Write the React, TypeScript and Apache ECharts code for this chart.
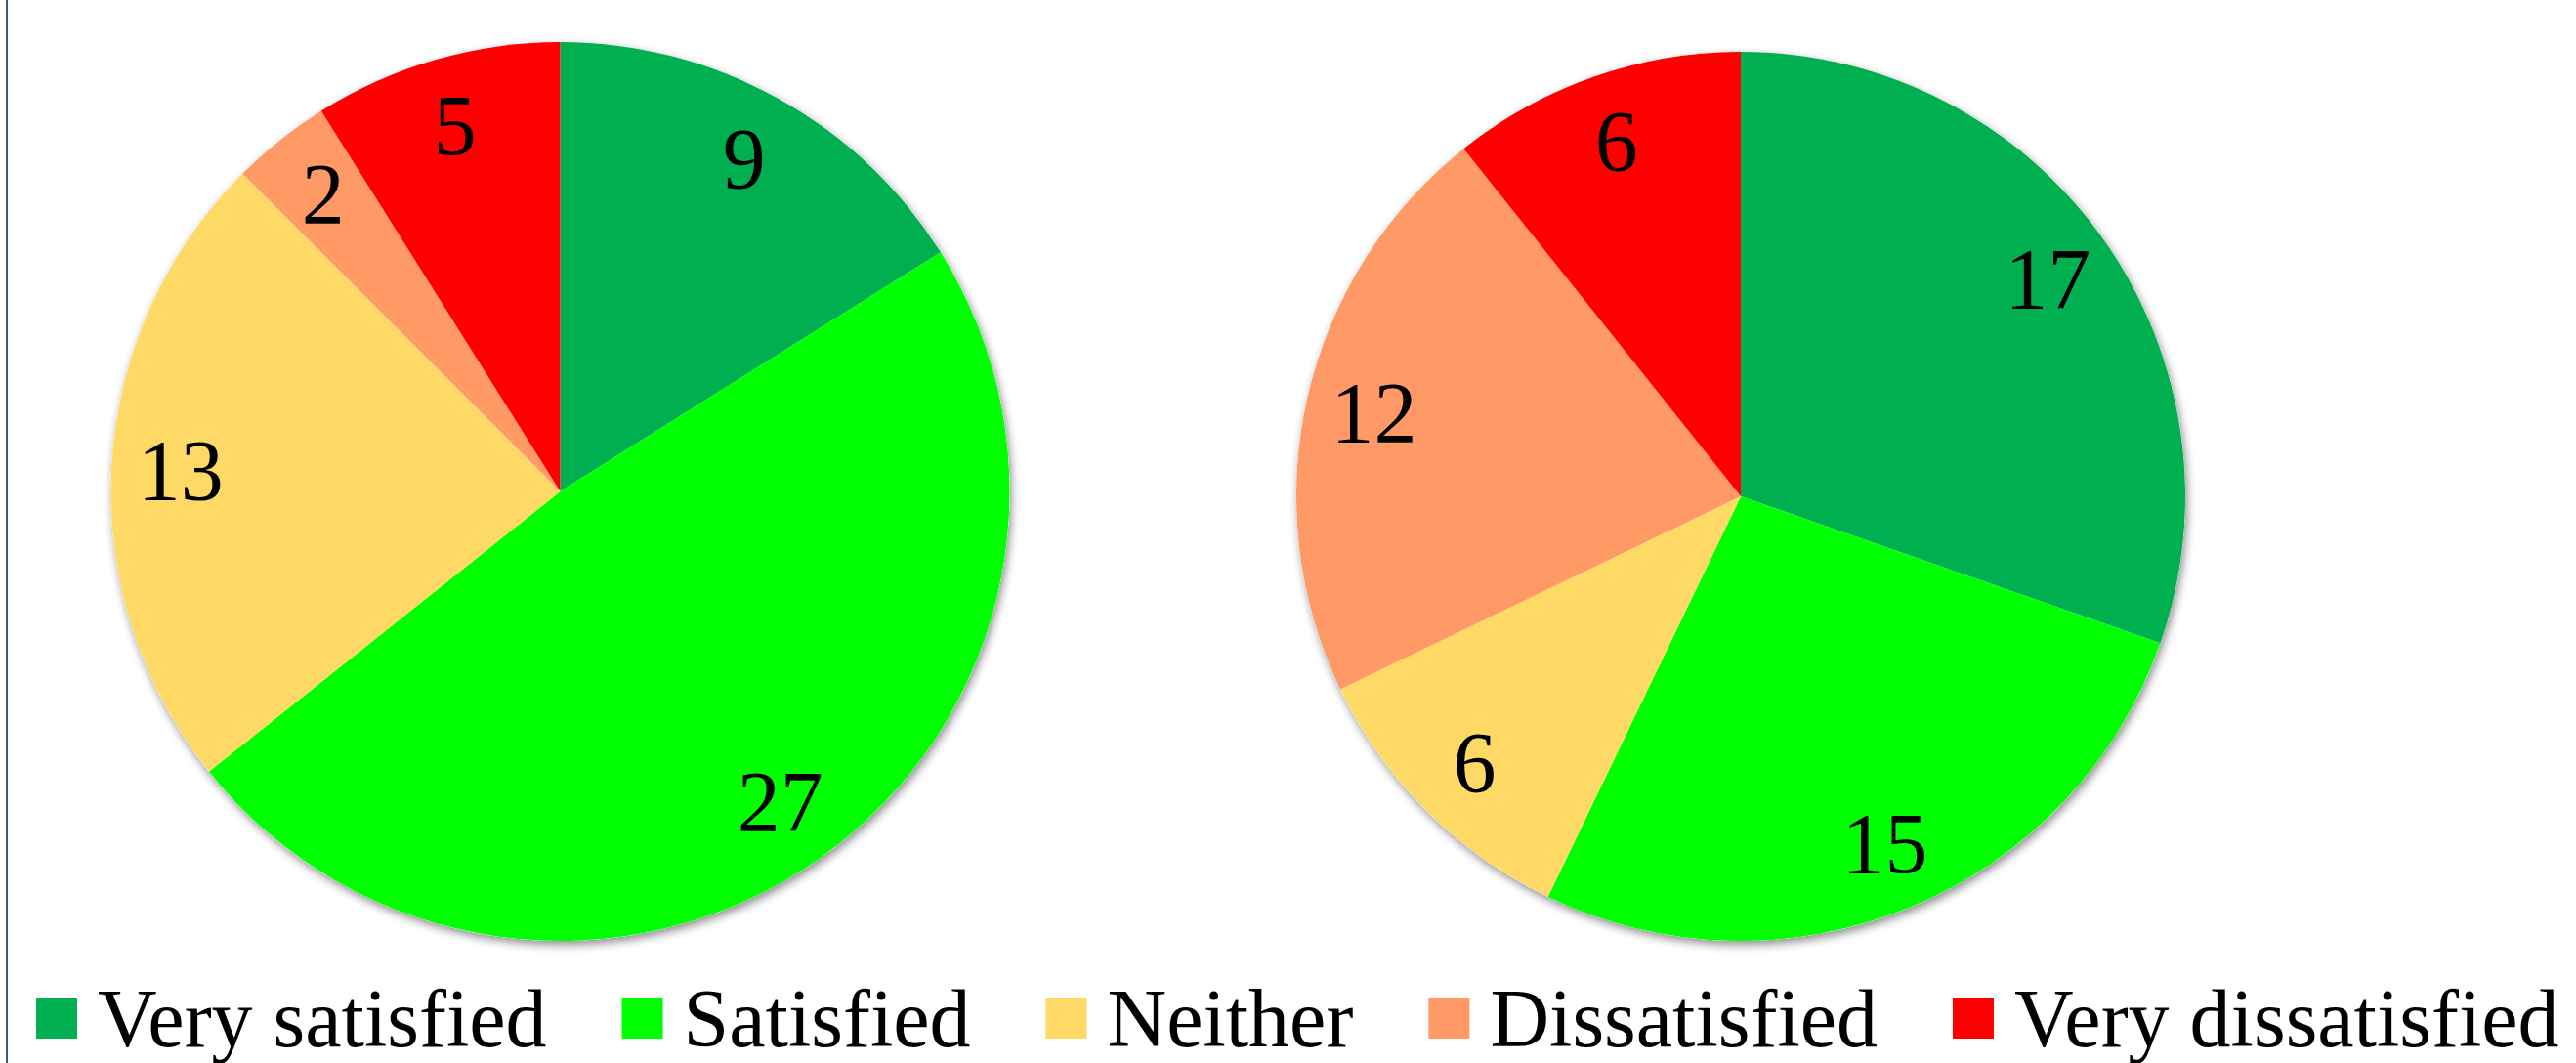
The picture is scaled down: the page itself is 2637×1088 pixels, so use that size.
import React, { useEffect, useRef } from "react";
import * as echarts from "echarts";

const categories = ["Very satisfied", "Satisfied", "Neither", "Dissatisfied", "Very dissatisfied"];
const leftValues = [9, 27, 13, 2, 5];
const rightValues = [17, 15, 6, 12, 6];
const colors = ["#00B050", "#00FF00", "#FFD966", "#FF9966", "#FF0000"];

const FONT = "'Liberation Serif', 'DejaVu Serif', serif";

export default function App() {
  const ref = useRef<HTMLDivElement>(null);
  useEffect(() => {
    if (!ref.current) return;
    const chart = echarts.init(ref.current, null, { renderer: "svg" });
    const pies = [
      { center: [573.5, 503], r: 460, values: leftValues },
      { center: [1782, 508], r: 455, values: rightValues },
    ];
    const series: any[] = [];
    // shadow casters
    pies.forEach((p) => {
      series.push({
        type: "pie",
        center: p.center,
        radius: p.r,
        silent: true,
        label: { show: false },
        labelLine: { show: false },
        itemStyle: {
          color: "#ffffff",
          shadowBlur: 10,
          shadowColor: "rgba(0,0,0,0.45)",
          shadowOffsetX: 2,
          shadowOffsetY: 4,
        },
        data: [{ value: 1 }],
      });
    });
    // main pies
    pies.forEach((p) => {
      series.push({
        type: "pie",
        center: p.center,
        radius: p.r,
        startAngle: 90,
        clockwise: true,
        silent: true,
        label: { show: false },
        labelLine: { show: false },
        itemStyle: { borderWidth: 0 },
        data: categories.map((c, i) => ({
          name: c,
          value: p.values[i],
          itemStyle: { color: colors[i] },
        })),
      });
    });
    // label overlays
    pies.forEach((p) => {
      series.push({
        type: "pie",
        center: p.center,
        radius: [p.r * 0.68, p.r],
        startAngle: 90,
        clockwise: true,
        silent: true,
        itemStyle: { color: "rgba(0,0,0,0)", borderWidth: 0 },
        label: {
          show: true,
          position: "inside",
          formatter: "{c}",
          color: "#000000",
          fontFamily: FONT,
          fontSize: 88,
        },
        labelLine: { show: false },
        data: p.values.map((v) => ({ value: v })),
      });
    });
    chart.setOption({
      animation: false,
      backgroundColor: "#ffffff",
      legend: {
        data: categories,
        bottom: -1,
        left: 32,
        itemWidth: 42,
        itemHeight: 42,
        itemGap: 77,
        icon: "rect",
        textStyle: {
          fontFamily: FONT,
          fontSize: 84,
          lineHeight: 60,
          color: "#000000",
          padding: [0, 0, 0, 16],
        },
        selectedMode: false,
      },
      graphic: [
        {
          type: "line",
          shape: { x1: 7, y1: 0, x2: 7, y2: 1088 },
          style: { stroke: "#3f5a8c", lineWidth: 2 },
        },
      ],
      series,
    });
    return () => chart.dispose();
  }, []);
  return (
    <div
      ref={ref}
      style={{ position: "fixed", left: 0, top: 0, width: 2637, height: 1088 }}
    />
  );
}
